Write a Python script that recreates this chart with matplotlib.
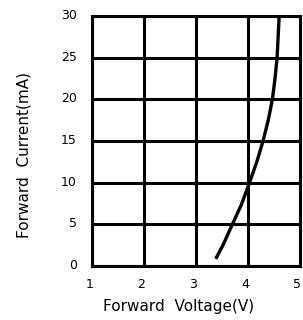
import matplotlib
matplotlib.use("Agg")
import matplotlib.pyplot as plt
import matplotlib.transforms as mtransforms

# forward voltage (V) vs forward current (mA)
voltage = [3.38, 3.52, 3.70, 3.87, 4.03, 4.17, 4.29, 4.39, 4.47, 4.52, 4.56, 4.58, 4.60]
current = [0.85, 2.5, 5, 7.3, 10, 12.5, 15, 17.5, 20, 22.5, 25, 27.5, 30]

xticks = [1, 2, 3, 4, 5]
yticks = [0, 5, 10, 15, 20, 25, 30]

plt.rcParams['font.family'] = ['DejaVu Sans']
fig = plt.figure(figsize=(3.03, 3.20), dpi=100)
ax = fig.add_axes([0.3036, 0.169, 0.6864, 0.781])

ax.plot(voltage, current, color='black', lw=2.4, solid_capstyle='butt')

ax.set_xlim(1, 5)
ax.set_ylim(0, 30)
ax.set_xticks(xticks)
ax.set_yticks(yticks)
ax.tick_params(length=0, labelsize=9)
ax.tick_params(axis='x', pad=9)
ax.tick_params(axis='y', pad=11)
ax.grid(True, color='black', lw=2.2)
for s in ax.spines.values():
    s.set_linewidth(2.2)

# tick labels sit slightly left / above their grid lines in the original
dx = mtransforms.ScaledTranslation(-2.5 / 100, 0, fig.dpi_scale_trans)
for lab in ax.get_xticklabels():
    lab.set_transform(lab.get_transform() + dx)
dy = mtransforms.ScaledTranslation(0, 2 / 100, fig.dpi_scale_trans)
for lab in ax.get_yticklabels():
    lab.set_transform(lab.get_transform() + dy)

ax.set_xlabel('Forward  Voltage(V)', fontsize=11)
ax.set_ylabel('Forward  Current(mA)', fontsize=11)
ax.xaxis.set_label_coords(0.418, -0.134)
ax.yaxis.set_label_coords(-0.29, 0.444)

fig.savefig('out.png', dpi=100)
